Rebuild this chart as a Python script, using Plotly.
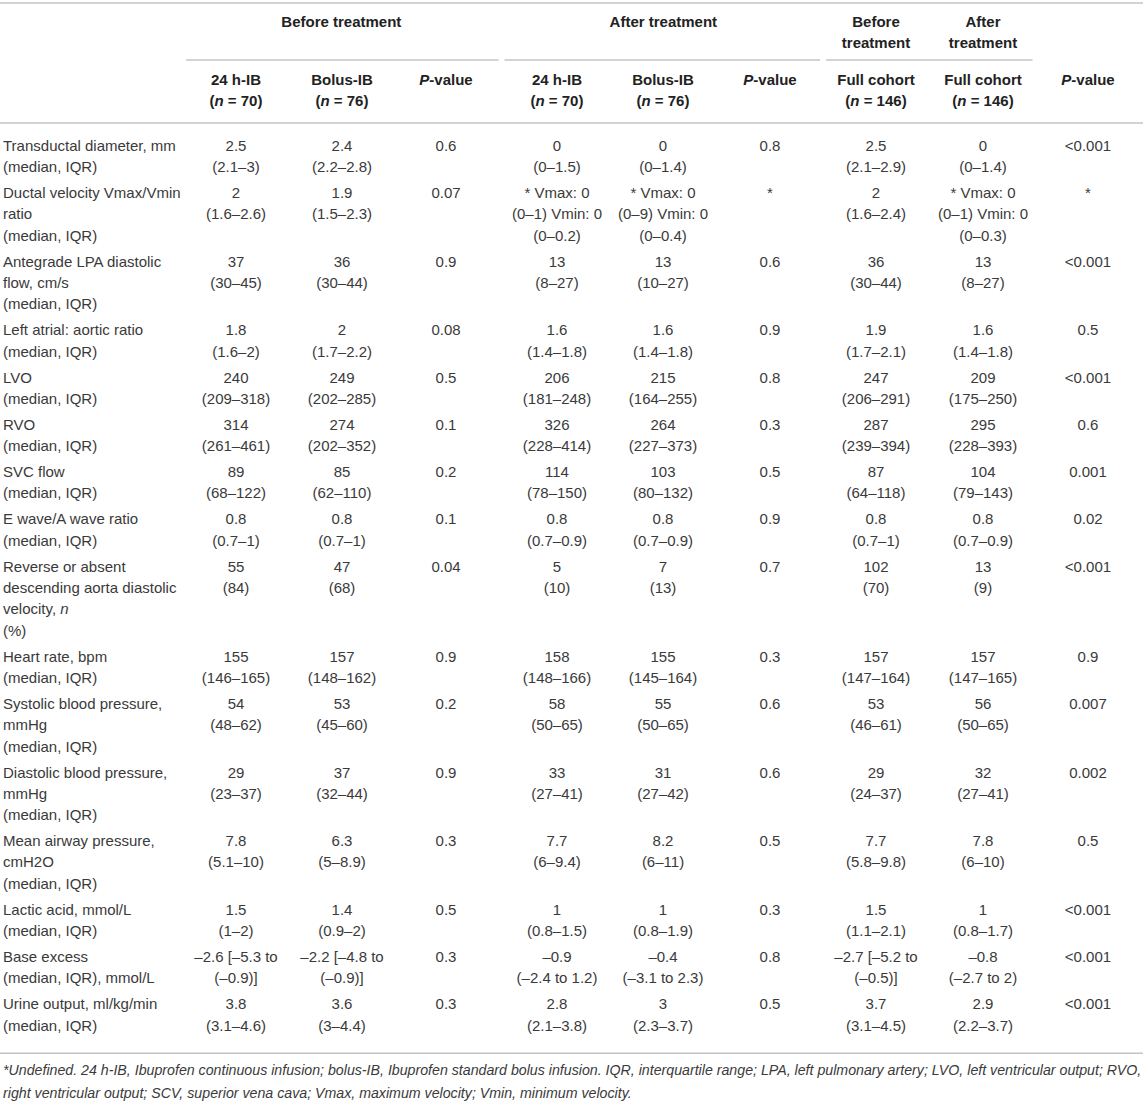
import plotly.graph_objects as go

# ---- table content ----
row_labels = [
    "Transductal diameter, mm\n(median, IQR)",
    "Ductal velocity Vmax/Vmin\nratio\n(median, IQR)",
    "Antegrade LPA diastolic\nflow, cm/s\n(median, IQR)",
    "Left atrial: aortic ratio\n(median, IQR)",
    "LVO\n(median, IQR)",
    "RVO\n(median, IQR)",
    "SVC flow\n(median, IQR)",
    "E wave/A wave ratio\n(median, IQR)",
    "Reverse or absent\ndescending aorta diastolic\nvelocity, <i>n</i>\n(%)",
    "Heart rate, bpm\n(median, IQR)",
    "Systolic blood pressure,\nmmHg\n(median, IQR)",
    "Diastolic blood pressure,\nmmHg\n(median, IQR)",
    "Mean airway pressure,\ncmH2O\n(median, IQR)",
    "Lactic acid, mmol/L\n(median, IQR)",
    "Base excess\n(median, IQR), mmol/L",
    "Urine output, ml/kg/min\n(median, IQR)",
]

before_24h = ["2.5\n(2.1–3)", "2\n(1.6–2.6)", "37\n(30–45)", "1.8\n(1.6–2)", "240\n(209–318)",
              "314\n(261–461)", "89\n(68–122)", "0.8\n(0.7–1)", "55\n(84)", "155\n(146–165)",
              "54\n(48–62)", "29\n(23–37)", "7.8\n(5.1–10)", "1.5\n(1–2)",
              "–2.6 [–5.3 to\n(–0.9)]", "3.8\n(3.1–4.6)"]
before_bolus = ["2.4\n(2.2–2.8)", "1.9\n(1.5–2.3)", "36\n(30–44)", "2\n(1.7–2.2)", "249\n(202–285)",
                "274\n(202–352)", "85\n(62–110)", "0.8\n(0.7–1)", "47\n(68)", "157\n(148–162)",
                "53\n(45–60)", "37\n(32–44)", "6.3\n(5–8.9)", "1.4\n(0.9–2)",
                "–2.2 [–4.8 to\n(–0.9)]", "3.6\n(3–4.4)"]
before_p = ["0.6", "0.07", "0.9", "0.08", "0.5", "0.1", "0.2", "0.1", "0.04", "0.9",
            "0.2", "0.9", "0.3", "0.5", "0.3", "0.3"]

after_24h = ["0\n(0–1.5)", "* Vmax: 0\n(0–1) Vmin: 0\n(0–0.2)", "13\n(8–27)", "1.6\n(1.4–1.8)",
             "206\n(181–248)", "326\n(228–414)", "114\n(78–150)", "0.8\n(0.7–0.9)", "5\n(10)",
             "158\n(148–166)", "58\n(50–65)", "33\n(27–41)", "7.7\n(6–9.4)", "1\n(0.8–1.5)",
             "–0.9\n(–2.4 to 1.2)", "2.8\n(2.1–3.8)"]
after_bolus = ["0\n(0–1.4)", "* Vmax: 0\n(0–9) Vmin: 0\n(0–0.4)", "13\n(10–27)", "1.6\n(1.4–1.8)",
               "215\n(164–255)", "264\n(227–373)", "103\n(80–132)", "0.8\n(0.7–0.9)", "7\n(13)",
               "155\n(145–164)", "55\n(50–65)", "31\n(27–42)", "8.2\n(6–11)", "1\n(0.8–1.9)",
               "–0.4\n(–3.1 to 2.3)", "3\n(2.3–3.7)"]
after_p = ["0.8", "*", "0.6", "0.9", "0.8", "0.3", "0.5", "0.9", "0.7", "0.3",
           "0.6", "0.6", "0.5", "0.3", "0.8", "0.5"]

full_before = ["2.5\n(2.1–2.9)", "2\n(1.6–2.4)", "36\n(30–44)", "1.9\n(1.7–2.1)", "247\n(206–291)",
               "287\n(239–394)", "87\n(64–118)", "0.8\n(0.7–1)", "102\n(70)", "157\n(147–164)",
               "53\n(46–61)", "29\n(24–37)", "7.7\n(5.8–9.8)", "1.5\n(1.1–2.1)",
               "–2.7 [–5.2 to\n(–0.5)]", "3.7\n(3.1–4.5)"]
full_after = ["0\n(0–1.4)", "* Vmax: 0\n(0–1) Vmin: 0\n(0–0.3)", "13\n(8–27)", "1.6\n(1.4–1.8)",
              "209\n(175–250)", "295\n(228–393)", "104\n(79–143)", "0.8\n(0.7–0.9)", "13\n(9)",
              "157\n(147–165)", "56\n(50–65)", "32\n(27–41)", "7.8\n(6–10)", "1\n(0.8–1.7)",
              "–0.8\n(–2.7 to 2)", "2.9\n(2.2–3.7)"]
full_p = ["&lt;0.001", "*", "&lt;0.001", "0.5", "&lt;0.001", "0.6", "0.001", "0.02", "&lt;0.001",
          "0.9", "0.007", "0.002", "0.5", "&lt;0.001", "&lt;0.001", "&lt;0.001"]

col_headers = ["24 h-IB\n(<i>n</i> = 70)", "Bolus-IB\n(<i>n</i> = 76)", "<i>P</i>-value",
               "24 h-IB\n(<i>n</i> = 70)", "Bolus-IB\n(<i>n</i> = 76)", "<i>P</i>-value",
               "Full cohort\n(<i>n</i> = 146)", "Full cohort\n(<i>n</i> = 146)", "<i>P</i>-value"]
group_headers = ["Before treatment", "After treatment", "Before\ntreatment", "After\ntreatment"]
group_spans = [(0, 2), (3, 5), (6, 6), (7, 7)]
underline_spans = [(0, 2), (3, 5), (6, 7)]

footnote = [
    "*Undefined. 24 h-IB, Ibuprofen continuous infusion; bolus-IB, Ibuprofen standard bolus infusion. "
    "IQR, interquartile range; LPA, left pulmonary artery; LVO, left ventricular output; RVO,",
    "right ventricular output; SCV, superior vena cava; Vmax, maximum velocity; Vmin, minimum velocity.",
]

columns = [before_24h, before_bolus, before_p, after_24h, after_bolus, after_p,
           full_before, full_after, full_p]

# ---- layout geometry ----
W, H = 1143, 1101
col_x = [236, 342, 446, 557, 663, 770, 876, 983, 1088]
label_x = 3
pitch = 21.3
row_gap = 4.7
first_y = 147
FONT = "Liberation Sans"
TXT = "#3a3a3a"
RULE = "#c4c4c4"

edges = [col_x[0] - (col_x[1] - col_x[0]) / 2]
edges += [(a + b) / 2 for a, b in zip(col_x[:-1], col_x[1:])]
edges += [W]

# body cells, one point per text line
n_lines = [max(len(c[i].split("\n")) for c in [row_labels] + columns) for i in range(len(row_labels))]
row_top = []
y = first_y
for n in n_lines:
    row_top.append(y)
    y += n * pitch + row_gap

lab_x, lab_y, lab_t = [], [], []
for i, lab in enumerate(row_labels):
    for k, line in enumerate(lab.split("\n")):
        lab_x.append(label_x)
        lab_y.append(row_top[i] + k * pitch)
        lab_t.append(line)

cx, cy, ct = [], [], []
for j, col in enumerate(columns):
    for i, cell in enumerate(col):
        for k, line in enumerate(cell.split("\n")):
            cx.append(col_x[j])
            cy.append(row_top[i] + k * pitch)
            ct.append(line)

hx, hy, ht = [], [], []
for j, h in enumerate(col_headers):
    for k, line in enumerate(h.split("\n")):
        hx.append(col_x[j])
        hy.append(81 + k * pitch)
        ht.append("<b>" + line + "</b>")
for (a, b), g in zip(group_spans, group_headers):
    for k, line in enumerate(g.split("\n")):
        hx.append(sum(col_x[a:b + 1]) / (b - a + 1))
        hy.append(23 + k * pitch)
        ht.append("<b>" + line + "</b>")

bottom_rule = row_top[-1] + n_lines[-1] * pitch + 5

fig = go.Figure()
fig.add_trace(go.Scatter(x=lab_x, y=lab_y, text=lab_t, mode="text", textposition="middle right",
                         textfont=dict(family=FONT, size=15, color=TXT), hoverinfo="skip"))
fig.add_trace(go.Scatter(x=cx, y=cy, text=ct, mode="text", textposition="middle center",
                         textfont=dict(family=FONT, size=15, color=TXT), hoverinfo="skip"))
fig.add_trace(go.Scatter(x=hx, y=hy, text=ht, mode="text", textposition="middle center",
                         textfont=dict(family=FONT, size=15, color="#222222"), hoverinfo="skip"))
fig.add_trace(go.Scatter(x=[label_x] * len(footnote),
                         y=[bottom_rule + 18 + k * 23 for k in range(len(footnote))],
                         text=["<i>" + f + "</i>" for f in footnote], mode="text",
                         textposition="middle right",
                         textfont=dict(family=FONT, size=14.2, color=TXT), hoverinfo="skip"))

# rules
for yy in [3, 123, bottom_rule]:
    fig.add_shape(type="line", x0=0, x1=W, y0=yy, y1=yy, line=dict(color=RULE, width=1.6))
for a, b in underline_spans:
    fig.add_shape(type="line", x0=edges[a] + 3, x1=edges[b + 1] - 3, y0=60, y1=60,
                  line=dict(color=RULE, width=1.6))

fig.update_layout(
    width=W, height=H,
    margin=dict(l=0, r=0, t=0, b=0),
    paper_bgcolor="white", plot_bgcolor="white",
    showlegend=False,
    xaxis=dict(range=[0, W], visible=False, fixedrange=True),
    yaxis=dict(range=[H, 0], visible=False, fixedrange=True),
)

# drop the default page margin so the table sits at the top-left corner
fig.write_html("out.html", config={"displayModeBar": False},
               post_script="document.body.style.margin='0';")
